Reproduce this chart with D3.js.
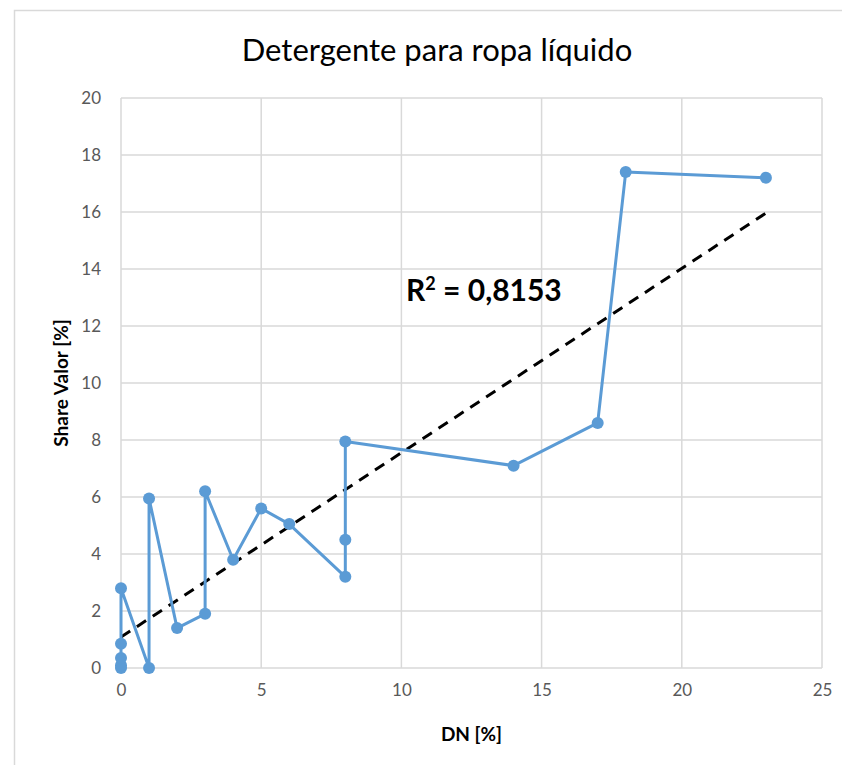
<!DOCTYPE html>
<html>
<head>
<meta charset="utf-8">
<script src="https://cdn.jsdelivr.net/npm/d3@7"></script>
<style>
  body { margin: 0; background: #fff; }
  text { font-family: Lato, "Open Sans", sans-serif; }
</style>
</head>
<body>
<div id="canvas"></div>
<script>
// data
const dn = [0, 0, 0, 0, 0, 1, 1, 2, 3, 3, 4, 5, 6, 8, 8, 8, 14, 17, 18, 23];
const share = [0, 0.1, 0.35, 0.85, 2.8, 0, 5.95, 1.4, 1.9, 6.2, 3.8, 5.6, 5.05, 3.2, 4.5, 7.95, 7.1, 8.6, 17.4, 17.2];
const xTicks = [0, 5, 10, 15, 20, 25];
const yTicks = [0, 2, 4, 6, 8, 10, 12, 14, 16, 18, 20];
const title = 'Detergente para ropa líquido';
const r2Label = '0,8153';

const width = 842, height = 765;
const margin = { top: 98, right: 20, bottom: 97, left: 121 };
const graphWidth = width - margin.left - margin.right;
const graphHeight = height - margin.top - margin.bottom;

const svg = d3.select('#canvas')
  .append('svg')
  .attr('width', width)
  .attr('height', height);

// outer chart border
svg.append('rect')
  .attr('x', 14.5)
  .attr('y', 10.5)
  .attr('width', width)
  .attr('height', height)
  .attr('fill', 'none')
  .attr('stroke', '#d9d9d9')
  .attr('stroke-width', 1.5);

const graph = svg.append('g')
  .attr('transform', `translate(${margin.left}, ${margin.top})`);

// scales
const x = d3.scaleLinear().domain([0, 25]).range([0, graphWidth]);
const y = d3.scaleLinear().domain([0, 20]).range([graphHeight, 0]);

// gridlines
graph.append('g')
  .selectAll('line')
  .data(yTicks)
  .enter().append('line')
    .attr('x1', 0).attr('x2', graphWidth)
    .attr('y1', d => y(d)).attr('y2', d => y(d))
    .attr('stroke', '#d9d9d9').attr('stroke-width', 1.5);

graph.append('g')
  .selectAll('line')
  .data(xTicks)
  .enter().append('line')
    .attr('x1', d => x(d)).attr('x2', d => x(d))
    .attr('y1', 0).attr('y2', graphHeight)
    .attr('stroke', '#d9d9d9').attr('stroke-width', 1.5);

// axes
const xAxis = d3.axisBottom(x).tickValues(xTicks).tickSize(0).tickPadding(16);
const yAxis = d3.axisLeft(y).tickValues(yTicks).tickSize(0).tickPadding(20);

const xAxisGroup = graph.append('g')
  .attr('transform', `translate(0, ${graphHeight})`)
  .call(xAxis);
const yAxisGroup = graph.append('g').call(yAxis);

[xAxisGroup, yAxisGroup].forEach(g => {
  g.select('.domain').remove();
  g.selectAll('text')
    .attr('fill', '#595959')
    .style('font-size', '17px');
});

// trend line (least squares)
const mx = d3.mean(dn), my = d3.mean(share);
let sxy = 0, sxx = 0;
dn.forEach((d, i) => { sxy += (d - mx) * (share[i] - my); sxx += (d - mx) * (d - mx); });
const slope = sxy / sxx;
const intercept = my - slope * mx;
const xExt = d3.extent(dn);

graph.append('line')
  .attr('x1', x(xExt[0])).attr('y1', y(intercept + slope * xExt[0]))
  .attr('x2', x(xExt[1])).attr('y2', y(intercept + slope * xExt[1]))
  .attr('stroke', '#000')
  .attr('stroke-width', 3)
  .attr('stroke-dasharray', '11 8');

// series line
const points = dn.map((d, i) => ({ dn: d, share: share[i] }));
const line = d3.line()
  .x(d => x(d.dn))
  .y(d => y(d.share));

graph.append('path')
  .datum(points)
  .attr('fill', 'none')
  .attr('stroke', '#5b9bd5')
  .attr('stroke-width', 3)
  .attr('stroke-linejoin', 'round')
  .attr('d', line);

graph.selectAll('circle')
  .data(points)
  .enter().append('circle')
    .attr('r', 6)
    .attr('cx', d => x(d.dn))
    .attr('cy', d => y(d.share))
    .attr('fill', '#5b9bd5');

// R² label
const r2 = svg.append('text')
  .attr('x', 406)
  .attr('y', 301)
  .style('font-size', '30px')
  .style('font-weight', 'bold')
  .attr('fill', '#000');
r2.append('tspan').text('R');
r2.append('tspan').text('2').attr('dy', -11).style('font-size', '18px');
r2.append('tspan').text(' = ' + r2Label).attr('dy', 11);

// title
svg.append('text')
  .attr('x', 437)
  .attr('y', 61)
  .attr('text-anchor', 'middle')
  .style('font-size', '31px')
  .attr('fill', '#000')
  .text(title);

// axis titles
svg.append('text')
  .attr('x', margin.left + graphWidth / 2)
  .attr('y', 741)
  .attr('text-anchor', 'middle')
  .style('font-size', '19px')
  .style('font-weight', 'bold')
  .attr('fill', '#000')
  .text('DN [%]');

svg.append('text')
  .attr('transform', `translate(68, ${margin.top + graphHeight / 2}) rotate(-90)`)
  .attr('text-anchor', 'middle')
  .style('font-size', '19px')
  .style('font-weight', 'bold')
  .attr('fill', '#000')
  .text('Share Valor  [%]');
</script>
</body>
</html>
